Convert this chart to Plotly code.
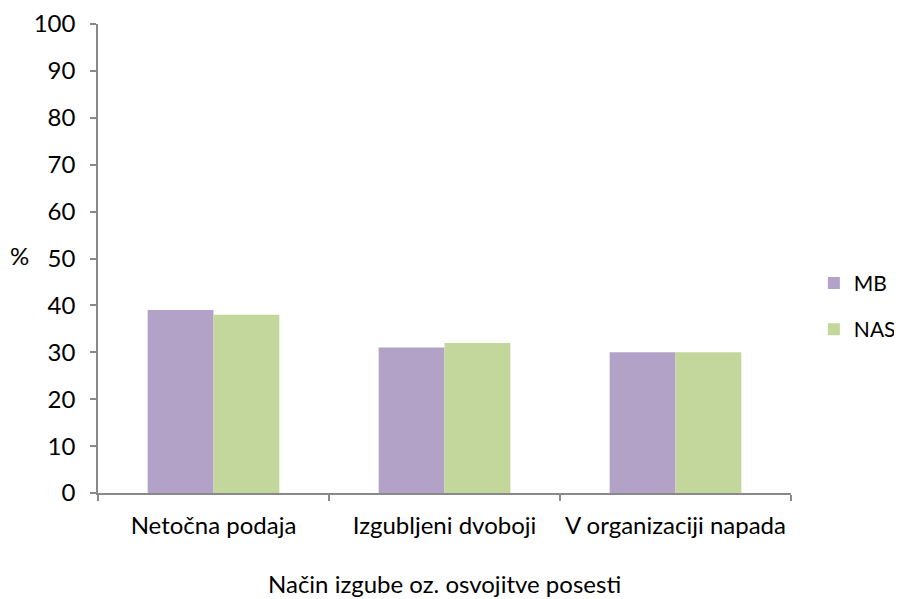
import plotly.graph_objects as go

categories = ["Netočna podaja", "Izgubljeni dvoboji", "V organizaciji napada"]
mb_values = [39, 31, 30]
nas_values = [38, 32, 30]
y_ticks = [0, 10, 20, 30, 40, 50, 60, 70, 80, 90, 100]

FONT = "Lato"
FS = 24
AXIS_COLOR = "#898989"

fig = go.Figure()
fig.add_trace(go.Bar(x=categories, y=mb_values, name="MB", marker=dict(color="#b3a2c7", line=dict(width=0)),
                     legendgroup="a"))
fig.add_trace(go.Bar(x=categories, y=nas_values, name="NAS", marker=dict(color="#c3d69b", line=dict(width=0)),
                     legendgroup="b"))

# page body has an 8px margin, so the figure is 8px smaller and margins shifted
fig.update_layout(
    width=894, height=591,
    margin=dict(l=90, r=111, t=16, b=106, autoexpand=False),
    plot_bgcolor="white", paper_bgcolor="white",
    font=dict(family=FONT, size=FS, color="black"),
    barmode="group", bargap=0.43, bargroupgap=0,
    showlegend=True,
    legend=dict(x=1.033, xanchor="left", y=0.398, yanchor="middle",
                traceorder="grouped", tracegroupgap=16,
                bgcolor="rgba(0,0,0,0)",
                font=dict(family=FONT, size=21)),
)
fig.update_xaxes(
    automargin=False,
    showline=True, linecolor=AXIS_COLOR, linewidth=1.5,
    ticks="outside", tickson="boundaries", ticklen=6, tickcolor=AXIS_COLOR, tickwidth=1.5,
    ticklabelstandoff=10,
    showgrid=False,
)
fig.update_yaxes(
    automargin=False,
    range=[0, 100], tickvals=y_ticks,
    showline=True, linecolor=AXIS_COLOR, linewidth=1.5,
    ticks="outside", ticklen=6, tickcolor=AXIS_COLOR, tickwidth=1.5,
    ticklabelstandoff=10,
    showgrid=False, zeroline=False,
)
fig.add_annotation(text="%", xref="paper", yref="paper", x=-0.113, y=0.507,
                   xanchor="center", yanchor="middle", showarrow=False, font=dict(size=FS))
fig.add_annotation(text="Način izgube oz. osvojitve posesti", xref="paper", yref="paper",
                   x=0.5, y=-0.192, xanchor="center", yanchor="middle", showarrow=False,
                   font=dict(size=FS))

fig.write_html("out.html")
